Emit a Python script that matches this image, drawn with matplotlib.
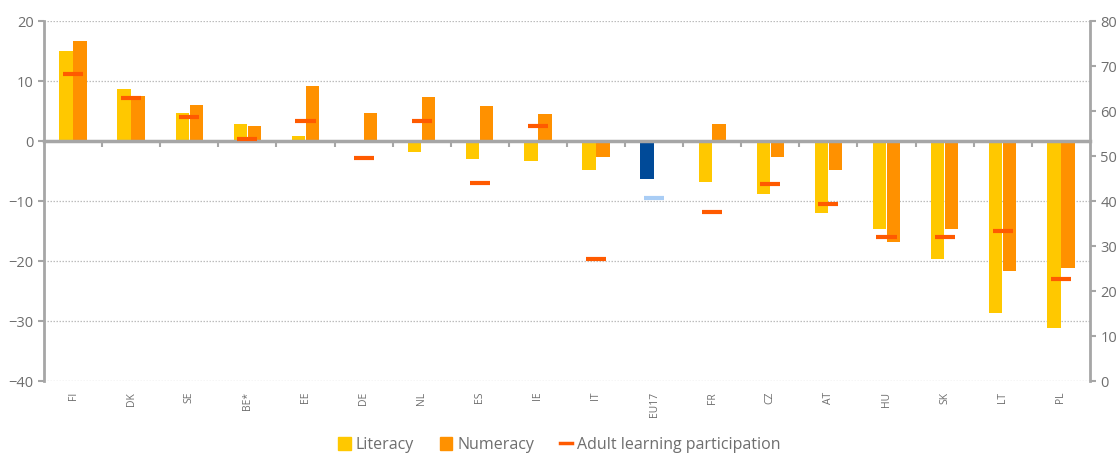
import numpy as np
import matplotlib.pyplot as plt
from matplotlib.patches import Patch
from matplotlib.lines import Line2D

plt.rcParams['font.family'] = ['Open Sans', 'DejaVu Sans']

countries = ['FI', 'DK', 'SE', 'BE*', 'EE', 'DE', 'NL', 'ES', 'IE', 'IT',
             'EU17', 'FR', 'CZ', 'AT', 'HU', 'SK', 'LT', 'PL']
literacy = [15.0, 8.7, 4.7, 2.8, 0.8, 0.1, -1.8, -3.0, -3.3, -4.9,
            -6.3, -6.8, -8.8, -12.0, -14.7, -19.7, -28.7, -31.2]
numeracy = [16.7, 7.5, 6.0, 2.5, 9.2, 4.7, 7.3, 5.8, 4.5, -2.7,
            0.1, 2.8, -2.7, -4.8, -16.8, -14.7, -21.7, -21.2]
adult_learning = [68.2, 62.9, 58.7, 53.8, 57.8, 49.6, 57.8, 44.0, 56.7, 27.1,
                  40.7, 37.6, 43.8, 39.3, 32.0, 32.0, 33.3, 22.7]

c_lit = '#FFC800'
c_num = '#FF9100'
c_adult = '#FF5A00'
c_eu = '#004A98'
c_eu_adult = '#A9CDF5'
gray = '#A6A6A6'
txt = '#6E6E6E'

fig = plt.figure(figsize=(11.19, 4.55), dpi=100)
ax = fig.add_axes([0.0393, 0.1626, 0.9347, 0.7912])
x = np.arange(len(countries))
w = 0.23

lit_colors = [c_eu if c == 'EU17' else c_lit for c in countries]
ax.bar(x - 0.12, literacy, width=w, color=lit_colors, zorder=3)
ax.bar(x + 0.12, numeracy, width=w, color=c_num, zorder=3)

ax.set_xlim(-0.5, len(countries) - 0.5)
ax.set_ylim(-40, 20)
ax.set_yticks(np.arange(-40, 21, 10))
ax.yaxis.grid(True, linestyle=(0, (1.2, 1.2)), color='#BDBDBD', linewidth=0.9, zorder=0)
ax.tick_params(axis='y', colors=gray, labelcolor=txt, labelsize=10.5, length=4, width=1.5)

ax.spines['top'].set_visible(False)
ax.spines['right'].set_visible(False)
ax.spines['left'].set_color(gray)
ax.spines['left'].set_linewidth(2)
ax.spines['bottom'].set_position(('data', 0))
ax.spines['bottom'].set_color(gray)
ax.spines['bottom'].set_linewidth(2.5)
ax.spines['bottom'].set_zorder(4)
ax.set_xticks(np.arange(0.5, len(countries) - 0.5, 1.0))
ax.tick_params(axis='x', colors=gray, labelbottom=False, length=4, width=1.5, direction='out')

for i, c in enumerate(countries):
    ax.text(i, -0.03, c, transform=ax.get_xaxis_transform(), rotation=90,
            ha='center', va='top', fontsize=7.5, color=txt)

ax2 = ax.twinx()
ax2.set_ylim(0, 80)
ax2.set_yticks(np.arange(0, 81, 10))
ax2.tick_params(axis='y', colors=gray, labelcolor=txt, labelsize=10.5, length=4, width=1.5)
for s in ['top', 'left', 'bottom']:
    ax2.spines[s].set_visible(False)
ax2.spines['right'].set_color(gray)
ax2.spines['right'].set_linewidth(2)

adult_colors = [c_eu_adult if c == 'EU17' else c_adult for c in countries]
ax2.scatter(x, adult_learning, marker='_', s=210, linewidths=3, c=adult_colors, zorder=5)

handles = [Patch(color=c_lit), Patch(color=c_num),
           Line2D([0], [0], color=c_adult, linewidth=2.5)]
labels = ['Literacy', 'Numeracy', 'Adult learning participation']
leg = fig.legend(handles, labels, loc='center', bbox_to_anchor=(0.5, 0.022), ncol=3,
                 frameon=False, fontsize=11.5, handlelength=0.8, handleheight=0.8,
                 handletextpad=0.3, columnspacing=1.6)
for t in leg.get_texts():
    t.set_color(txt)

fig.savefig('out.png', dpi=100)
